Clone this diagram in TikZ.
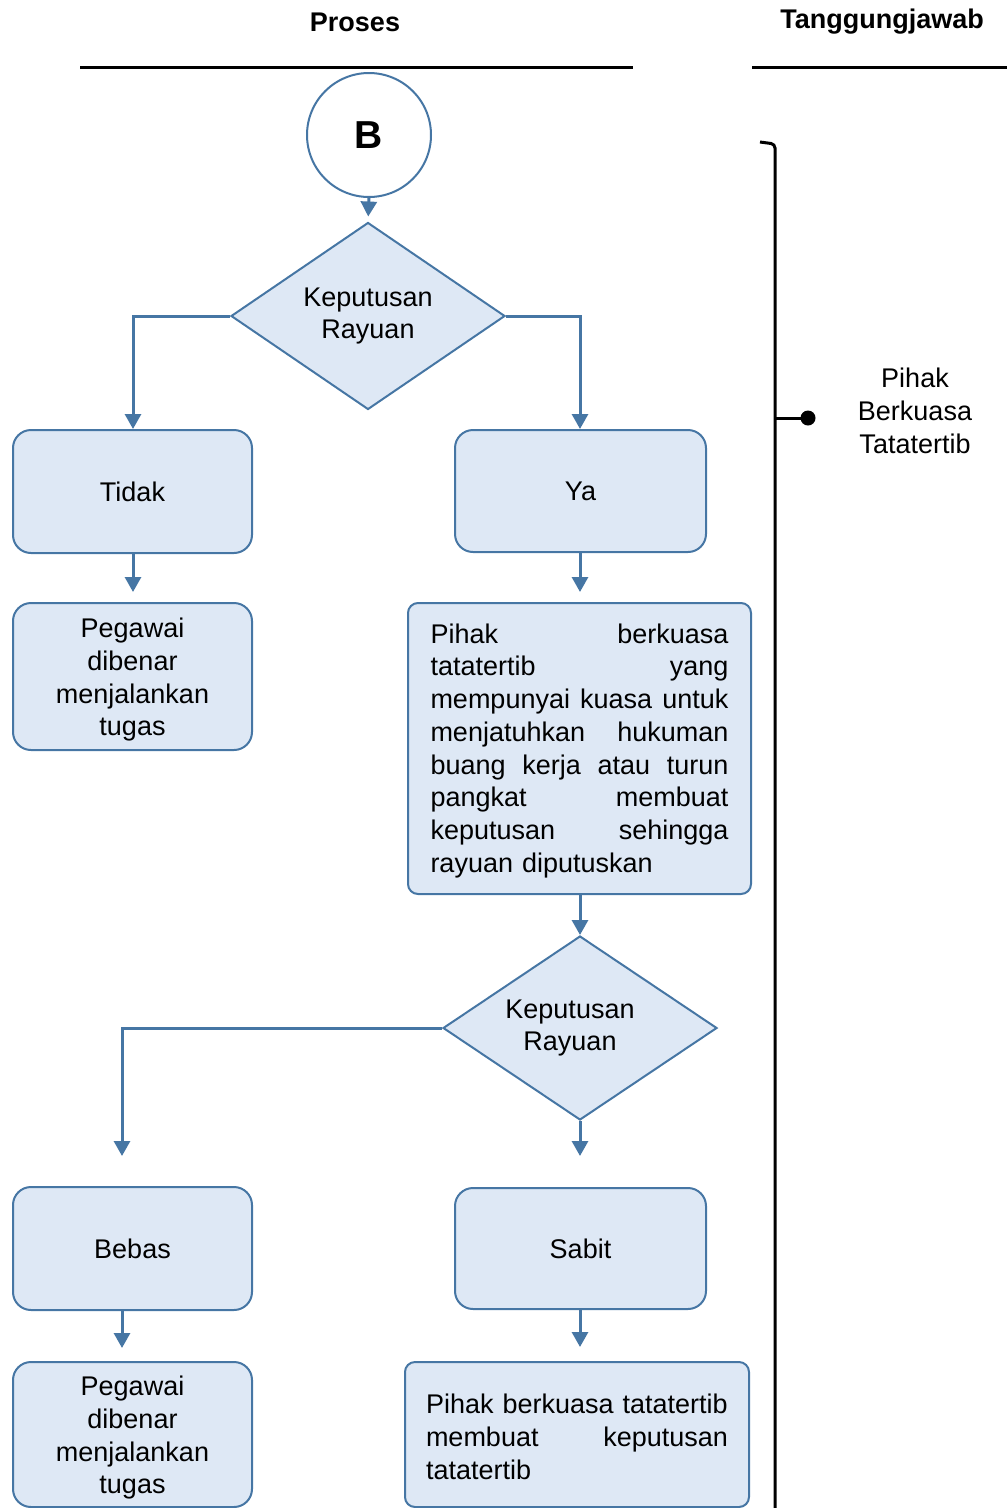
\documentclass[tikz,border=0pt]{standalone}
\usepackage{fontspec}
\setmainfont{Liberation Sans}
\usetikzlibrary{arrows.meta,shapes.geometric}
\definecolor{boxfill}{RGB}{222,232,245}
\definecolor{boxline}{RGB}{70,118,164}
\newcommand\myjl[1]{\leavevmode\hbox to \linewidth{#1}}
\begin{document}
\begin{tikzpicture}[x=1pt,y=-1pt,
  txt/.style={font=\fontsize{27}{32.7}\selectfont},
  hdr/.style={font=\fontsize{27}{32}\selectfont\bfseries},
  procbox/.style={draw=boxline,fill=boxfill,line width=2pt,rounded corners=18pt,
     inner sep=0pt,align=center,txt},
  decbox/.style={draw=boxline,fill=boxfill,line width=2pt,diamond,aspect=1.46,
     inner sep=0pt,align=center,txt},
  arr/.style={draw=boxline,line width=3pt,-{Triangle[length=15pt,width=16pt]}},
  rule/.style={line width=3pt,black}]
\useasboundingbox (0,0) rectangle (1007,1508);

% headers
\node[hdr] (hproses) at (355,22) {Proses};
\node[hdr] (htang) at (882,22) {Tanggungjawab};
\coordinate (r1a) at (80,67); \coordinate (r1b) at (633,67);
\coordinate (r2a) at (752,67); \coordinate (r2b) at (1007,67);
\draw[rule] (r1a) -- (r1b);
\draw[rule] (r2a) -- (r2b);

% start circle
\node[circle,draw=boxline,fill=white,line width=2pt,minimum size=124pt,inner sep=0pt,
  font=\fontsize{39}{40}\selectfont\bfseries] (B) at (369,135) {B};

% decision 1
\node[decbox,minimum width=274pt,minimum height=187pt] (d1) at (368,316) {Keputusan\\Rayuan};

\node[procbox,minimum width=239pt,minimum height=123pt] (tidak) at (132.5,491.5) {Tidak};
\node[procbox,minimum width=251pt,minimum height=122pt] (ya) at (580.5,491) {Ya};

\node[procbox,minimum width=239pt,minimum height=147pt] (peg1) at (132.5,676.5)
  {\rule{0pt}{26pt}Pegawai\\dibenar\\menjalankan\\tugas};

\node[procbox,rounded corners=10pt,minimum width=343pt,minimum height=291pt,
  text width=298pt,align=left] (big) at (579.5,748.5)
  {\myjl{\rule{0pt}{24pt}Pihak\hfill berkuasa}\\
   \myjl{tatatertib\hfill yang}\\
   \myjl{mempunyai\hfill kuasa\hfill untuk}\\
   \myjl{menjatuhkan\hfill hukuman}\\
   \myjl{buang\hfill kerja\hfill atau\hfill turun}\\
   \myjl{pangkat\hfill membuat}\\
   \myjl{keputusan\hfill sehingga}\\
   rayuan diputuskan};

% decision 2
\node[decbox,minimum width=274pt,minimum height=184pt] (d2) at (580,1028)
  {Keputusan\kern20pt\\Rayuan\kern20pt};

\node[procbox,minimum width=239pt,minimum height=123pt] (bebas) at (132.5,1248.5) {Bebas};
\node[procbox,minimum width=251pt,minimum height=121pt] (sabit) at (580.5,1248.5) {Sabit};

\node[procbox,minimum width=239pt,minimum height=145pt] (peg2) at (132.5,1434.5)
  {\rule{0pt}{26pt}Pegawai\\dibenar\\menjalankan\\tugas};

\node[procbox,rounded corners=10pt,minimum width=344pt,minimum height=145pt,
  text width=302pt,align=left] (last) at (577,1434.5)
  {\myjl{\rule{0pt}{24pt}Pihak berkuasa tatatertib}\\
   \myjl{membuat\hfill keputusan}\\
   tatatertib};

% column coordinates
\coordinate (cL) at (133,0);
\coordinate (cR) at (580,0);
\coordinate (cB) at (122,0);

% connectors
\draw[arr,shorten >=5pt] (B.south) -- (d1.north);
\draw[arr] (d1.west) -| (tidak.north -| cL);
\draw[arr] (d1.east) -| (ya.north -| cR);
\draw[arr,shorten >=10pt] (tidak.south -| cL) -- (peg1.north -| cL);
\draw[arr,shorten >=10pt] (ya.south -| cR) -- (big.north -| cR);
\draw[arr] (big.south -| cR) -- (d2.north);
\draw[arr,shorten >=30pt] (d2.west) -| (bebas.north -| cB);
\draw[arr,shorten >=31pt] (d2.south) -- (sabit.north -| cR);
\draw[arr,shorten >=13pt] (bebas.south -| cB) -- (peg2.north -| cB);
\draw[arr,shorten >=14pt] (sabit.south -| cR) -- (last.north -| cR);

% responsibility bracket
\coordinate (bt0) at (760,142);
\coordinate (bt1) at (775,144);
\coordinate (bb) at (775,1515);
\coordinate (bm) at (775,418);
\coordinate (bdot) at (808,418);
\draw[line width=3pt,rounded corners=4pt] (bt0) -- (bt1) -- (bb);
\draw[line width=3pt] (bm) -- (bdot);
\fill (bdot) circle (7.5pt);
\node[txt,align=center] (resp) at (915,411) {Pihak\\Berkuasa\\Tatatertib};
\end{tikzpicture}
\end{document}
